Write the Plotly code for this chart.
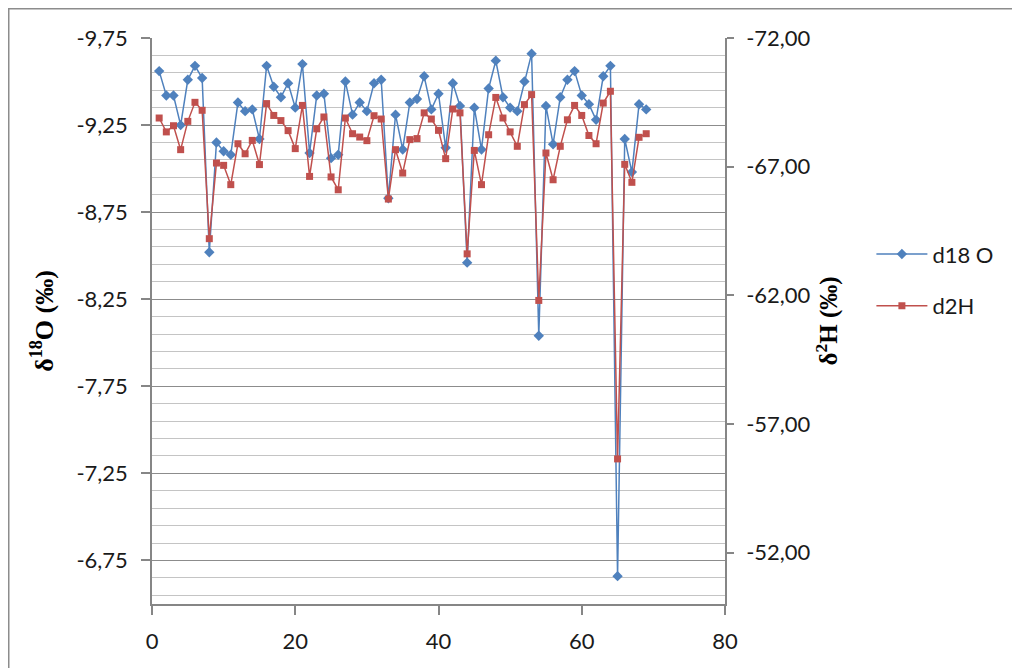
import plotly.graph_objects as go

sample = list(range(1, 70))
d18O = [-9.56, -9.42, -9.42, -9.25, -9.51, -9.59, -9.52, -8.52, -9.15, -9.10,
        -9.08, -9.38, -9.33, -9.34, -9.17, -9.59, -9.47, -9.41, -9.49, -9.35,
        -9.60, -9.09, -9.42, -9.43, -9.06, -9.08, -9.50, -9.31, -9.38, -9.33,
        -9.49, -9.51, -8.83, -9.31, -9.11, -9.38, -9.40, -9.53, -9.34, -9.43,
        -9.12, -9.49, -9.36, -8.46, -9.35, -9.11, -9.46, -9.62, -9.41, -9.35,
        -9.33, -9.50, -9.66, -8.04, -9.36, -9.14, -9.41, -9.51, -9.56, -9.42,
        -9.37, -9.28, -9.53, -9.59, -6.66, -9.17, -8.98, -9.37, -9.34]
d2H = [-68.89, -68.35, -68.59, -67.66, -68.76, -69.50, -69.19, -64.20, -67.14, -67.05,
       -66.30, -67.89, -67.50, -68.02, -67.08, -69.45, -68.99, -68.79, -68.40, -67.70,
       -69.38, -66.62, -68.47, -68.93, -66.60, -66.10, -68.89, -68.28, -68.15, -68.01,
       -68.98, -68.85, -65.74, -67.66, -66.75, -68.05, -68.09, -69.09, -68.85, -68.41,
       -67.31, -69.24, -69.09, -63.61, -67.63, -66.30, -68.24, -69.69, -68.89, -68.35,
       -67.79, -69.41, -69.80, -61.80, -67.53, -66.49, -67.79, -68.82, -69.38, -68.99,
       -68.21, -67.89, -69.47, -69.93, -55.64, -67.09, -66.39, -68.14, -68.28]

left_ticks = [-9.75, -9.25, -8.75, -8.25, -7.75, -7.25, -6.75]
right_ticks = [-72, -67, -62, -57, -52]
x_ticks = [0, 20, 40, 60, 80]

def fmt(v):
    return f"{v:.2f}".replace(".", ",")

left_labels = [fmt(v) for v in left_ticks]
right_labels = [fmt(v) for v in right_ticks]

BLUE = "#4F81BD"
RED = "#C0504D"
AXIS = "#868686"
TICKFONT = dict(family="Lato", size=22, color="#1a1a1a")

fig = go.Figure()
fig.add_trace(go.Scatter(
    x=sample, y=d18O, name="d18 O", mode="lines+markers", yaxis="y",
    line=dict(color=BLUE, width=1.5),
    marker=dict(symbol="diamond", size=8, color=BLUE),
    legendgroup="a"))
fig.add_trace(go.Scatter(
    x=sample, y=d2H, name="d2H", mode="lines+markers", yaxis="y2",
    line=dict(color=RED, width=1.5),
    marker=dict(symbol="square", size=7, color=RED),
    legendgroup="b"))

fig.update_layout(
    width=1012, height=660,
    margin=dict(l=144, r=295, t=30, b=64),
    paper_bgcolor="white", plot_bgcolor="white",
    showlegend=True,
    legend=dict(x=1.2555, y=0.655, xanchor="left", yanchor="top",
                font=dict(family="Lato", size=22, color="#1a1a1a"),
                traceorder="grouped", tracegroupgap=20, itemwidth=51,
                bgcolor="rgba(0,0,0,0)"),
    xaxis=dict(range=[0, 80], tickvals=x_ticks, ticktext=[str(v) for v in x_ticks],
               showgrid=False, zeroline=False, showline=True, linecolor=AXIS, linewidth=1.5,
               ticks="outside", ticklen=9, tickcolor=AXIS, tickwidth=1.5,
               tickfont=TICKFONT, ticklabelstandoff=8, automargin=False),
    xaxis2=dict(range=[0, 80], overlaying="x", anchor="y", side="bottom",
                tickvals=x_ticks, showticklabels=False, showgrid=False, zeroline=False,
                showline=False, ticks="inside", ticklen=8, tickcolor=AXIS, tickwidth=1.5,
                automargin=False),
    yaxis=dict(range=[-6.5, -9.75], tickvals=left_ticks, ticktext=left_labels,
               showgrid=True, gridcolor="#8c8c8c", gridwidth=1,
               minor=dict(tickmode="linear", tick0=-9.75, dtick=0.1, showgrid=True,
                          gridcolor="#c4c4c4", gridwidth=1, ticks=""),
               zeroline=False, showline=True, linecolor=AXIS, linewidth=1.5,
               ticks="outside", ticklen=9, tickcolor=AXIS, tickwidth=1.5,
               tickfont=TICKFONT, ticklabelstandoff=9,
               title=dict(text="<b>δ<sup>18</sup>O (‰)</b>", standoff=15,
                          font=dict(family="Liberation Serif", size=26, color="#000000")),
               automargin=False),
    yaxis2=dict(range=[-50, -72], overlaying="y", side="right", anchor="x",
                tickvals=right_ticks, ticktext=right_labels,
                showgrid=False, zeroline=False, showline=True, linecolor=AXIS, linewidth=1.5,
                ticks="outside", ticklen=7, tickcolor=AXIS, tickwidth=1.5,
                tickfont=TICKFONT, ticklabelstandoff=8,
                title=dict(text="<b>δ<sup>2</sup>H (‰)</b>", standoff=9,
                           font=dict(family="Liberation Serif", size=25, color="#000000")),
                automargin=False),
    shapes=[dict(type="rect", xref="paper", yref="paper",
                 x0=-0.25, x1=1.7, y0=-0.3, y1=1.0517,
                 line=dict(color="#8c8c8c", width=1.5), fillcolor="rgba(0,0,0,0)",
                 layer="below")],
)

fig.write_html("out.html")
